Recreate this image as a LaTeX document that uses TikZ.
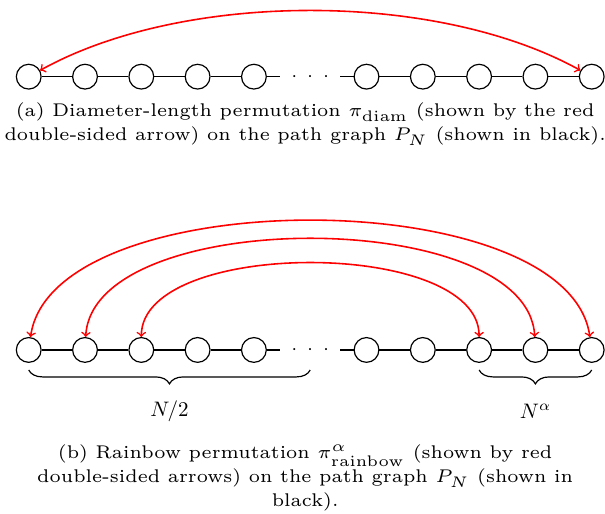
\documentclass[tikz,border=0pt]{standalone}
\usetikzlibrary{decorations.pathreplacing}
\begin{document}
\tikzset{
  vtx/.style={circle, draw, semithick, minimum size=4.4mm, inner sep=0pt},
  dotsnode/.style={inner xsep=5.5pt, inner ysep=0pt},
  pedge/.style={semithick},
  perm/.style={red, thick, <->},
  brc/.style={decorate, decoration={brace, mirror, amplitude=7pt}, semithick},
  captxt/.style={font=\fontsize{6}{7}\selectfont, anchor=base, scale=1.548, transform shape, inner sep=0pt},
  lbl/.style={scale=1.06},
}
\begin{tikzpicture}
\useasboundingbox (-0.51,1.362) rectangle (10.236,-7.767);
% top path graph
\foreach \i in {0,1,2,3,4,6,7,8,9,10} \node[vtx] (a\i) at (\i,0) {};
\node[dotsnode] (a5) at (5,0) {$\cdot\hspace{3pt}\cdot\hspace{3pt}\cdot$};
\foreach \i [count=\j from 1] in {0,...,9} \draw[pedge] (a\i) -- (a\j);
\draw[perm] (a0) to[out=29,in=151,looseness=0.78] (a10);
\node[captxt] (ca1) at (4.91,-0.716) {(a) Diameter-length permutation $\pi_{\mathrm{diam}}$ (shown by the red};
\node[captxt] (ca2) at (4.91,-1.142) {double-sided arrow) on the path graph $P_N$ (shown in black).};
% bottom path graph
\foreach \i in {0,1,2,3,4,6,7,8,9,10} \node[vtx] (b\i) at (\i,-4.854) {};
\node[dotsnode] (b5) at (5,-4.854) {$\cdot\hspace{3pt}\cdot\hspace{3pt}\cdot$};
\foreach \i [count=\j from 1] in {0,...,9} \draw[pedge] (b\i) -- (b\j);
\draw[perm] (b0) to[out=82,in=98,looseness=0.72] (b10);
\draw[perm] (b1) to[out=87,in=93,looseness=0.75] (b9);
\draw[perm] (b2) to[out=90,in=90,looseness=0.75] (b8);
\coordinate (bl1) at (0,-5.21);
\coordinate (bl2) at (5,-5.21);
\coordinate (br1) at (8,-5.21);
\coordinate (br2) at (10,-5.21);
\draw[brc] (bl1) -- (bl2);
\draw[brc] (br1) -- (br2);
\node[lbl] (lhalf) at (2.5,-5.938) {$N/2$};
\node[lbl] (lalpha) at (9,-5.938) {$N^{\alpha}$};
\node[captxt] (cb1) at (4.91,-6.79) {(b) Rainbow permutation $\pi^{\alpha}_{\mathrm{rainbow}}$ (shown by red};
\node[captxt] (cb2) at (4.91,-7.216) {double-sided arrows) on the path graph $P_N$ (shown in};
\node[captxt] (cb3) at (4.91,-7.642) {black).};
\end{tikzpicture}
\end{document}
